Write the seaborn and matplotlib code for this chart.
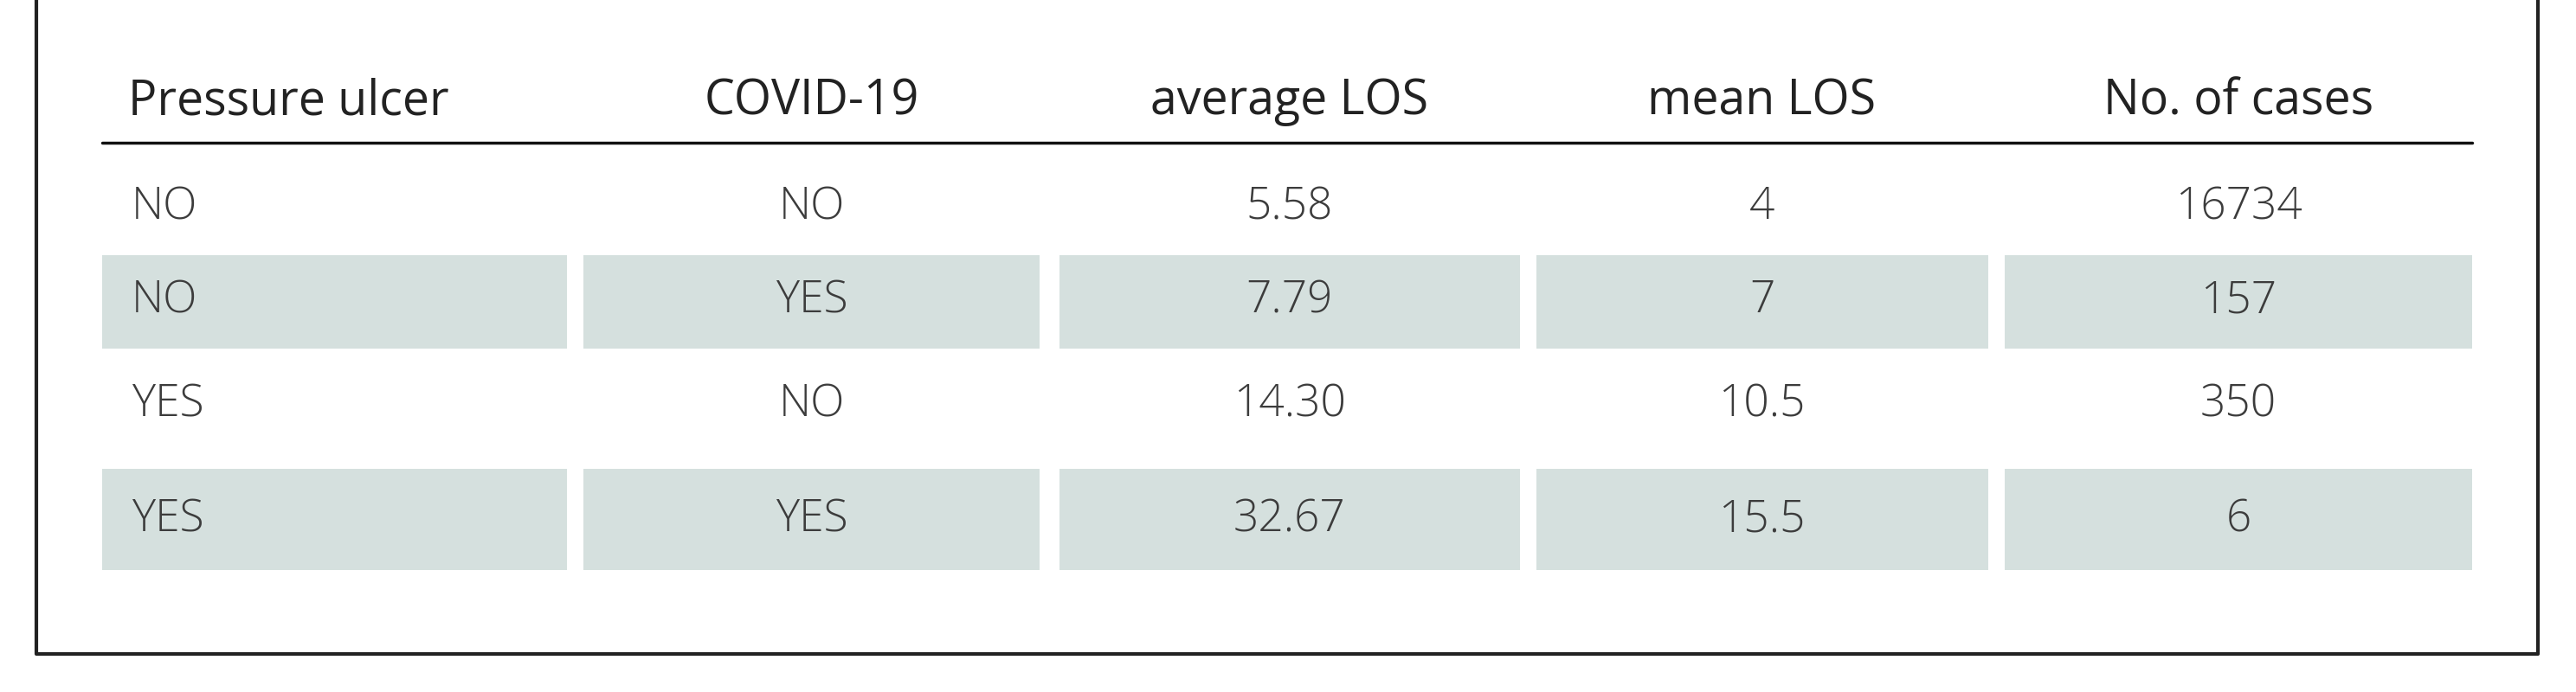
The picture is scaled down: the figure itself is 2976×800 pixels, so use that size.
import matplotlib
matplotlib.use('Agg')
import matplotlib.pyplot as plt
import seaborn as sns

headers = ['Pressure ulcer', 'COVID-19', 'average LOS', 'mean LOS', 'No. of cases']
pressure_ulcer = ['NO', 'NO', 'YES', 'YES']
covid = ['NO', 'YES', 'NO', 'YES']
average_los = ['5.58', '7.79', '14.30', '32.67']
mean_los = ['4', '7', '10.5', '15.5', '6'][:4]
cases = ['16734', '157', '350', '6']

W, H = 1568, 421
col_left = [62, 355, 645, 935, 1220]
col_right = [345, 633, 925, 1210, 1505]
row_y = [126, 183, 246, 316]
band_rows = {1: (155, 212), 3: (285, 347)}
TXT = '#3c3c3c'
BAND = '#d5e0de'

sns.set_theme(style='white')
plt.rcParams['font.family'] = ['Open Sans', 'DejaVu Sans']

fig = plt.figure(figsize=(29.76, 8), dpi=100)
ax = fig.add_axes([0, 0, 1, 1])
ax.set_xlim(0, W)
ax.set_ylim(H, 0)
ax.axis('off')

# shaded bands for rows 2 and 4
for r, (y0, y1) in band_rows.items():
    for l, rr in zip(col_left, col_right):
        ax.barh((y0 + y1) / 2, rr - l, height=y1 - y0, left=l, color=BAND, linewidth=0)

# header
for i, h in enumerate(headers):
    if i == 0:
        ax.text(78, 62, h, ha='left', va='center', fontsize=40, color='#222222')
    else:
        ax.text((col_left[i] + col_right[i]) / 2, 62, h, ha='center', va='center',
                fontsize=40, color='#222222')
ax.plot([62, 1505], [87, 87], color='#111111', lw=2.5)

columns = [pressure_ulcer, covid, average_los, mean_los, cases]
for i, col in enumerate(columns):
    for r, val in enumerate(col):
        if i == 0:
            ax.text(80, row_y[r], val, ha='left', va='center', fontsize=37,
                    color=TXT, fontweight='light')
        else:
            ax.text((col_left[i] + col_right[i]) / 2, row_y[r], val, ha='center',
                    va='center', fontsize=37, color=TXT, fontweight='light')

# frame
ax.plot([22, 22, 1545, 1545], [0, 398, 398, 0], color='#222222', lw=3)

fig.savefig('out.png', dpi=100)
